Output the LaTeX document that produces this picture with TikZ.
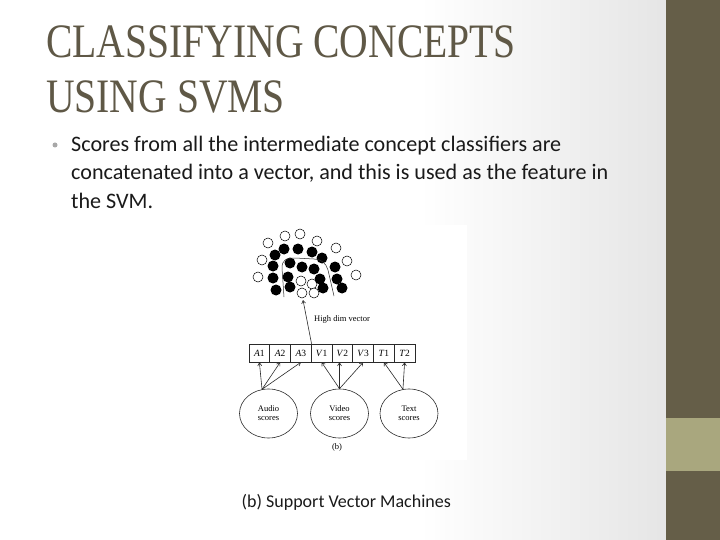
\documentclass[tikz,border=0pt]{standalone}
\usepackage{fontspec}
\setmainfont{Liberation Serif}
\newfontfamily\bodyfont{Carlito}
\newfontfamily\titlefont{Liberation Serif}
\usetikzlibrary{arrows.meta,shapes.geometric}
\definecolor{titlecol}{HTML}{5F5846}
\definecolor{bardark}{HTML}{655E48}
\definecolor{barlight}{HTML}{A9A77E}
\definecolor{bulletcol}{HTML}{A8A8A8}
\definecolor{txtcol}{HTML}{1A1A1A}
\definecolor{lncol}{HTML}{2A2A2A}
\begin{document}
\begin{tikzpicture}[x=1pt,y=-1pt,
  titletext/.style={anchor=base west,inner sep=0pt,text=titlecol,font=\titlefont\fontsize{48}{48}\selectfont},
  bodytext/.style={anchor=base west,inner sep=0pt,text=txtcol,font=\bodyfont\fontsize{22.1}{26}\selectfont},
  cell/.style={draw=lncol,line width=0.6pt,minimum width=20.75pt,minimum height=18pt,inner sep=0pt,font=\fontsize{9.5}{10}\selectfont},
  scorebox/.style={draw=lncol,line width=0.6pt,ellipse,minimum width=58pt,minimum height=49pt,inner sep=0pt,align=center,font=\fontsize{8.5}{9}\selectfont},
  arr/.style={draw=lncol,line width=0.6pt,-{Straight Barb[length=3pt,width=4pt]}},
  opendot/.style={draw=black,line width=0.5pt,fill=white},
  fulldot/.style={fill=black}]
\useasboundingbox (0,0) rectangle (720,540);
\fill[white] (0,0) rectangle (720,540);
\shade[left color=white,right color=black!10] (420,0) rectangle (666,540);
\fill[bardark] (666,0) rectangle (720,540);
\fill[barlight] (666,418) rectangle (720,471);
\fill[white] (247,225) rectangle (467,460);

% title
\node[titletext] (t1) at (46,58) {\scalebox{0.825}[1]{CLASSIFYING CONCEPTS}};
\node[titletext] (t2) at (46,113) {\scalebox{0.825}[1]{USING SVMS}};

% bullet text
\fill[bulletcol] (55,145) circle (2.5);
\node[bodytext] (b1) at (71,152) {Scores from all the intermediate concept classifiers are};
\node[bodytext] (b2) at (71,180) {concatenated into a vector, and this is used as the feature in};
\node[bodytext] (b3) at (71,208) {the SVM.};

% vector cells
\node[cell] (a1) at (259.375,353) {\textit{A}1};
\node[cell] (a2) at (280.125,353) {\textit{A}2};
\node[cell] (a3) at (300.875,353) {\textit{A}3};
\node[cell] (v1) at (321.625,353) {\textit{V}1};
\node[cell] (v2) at (342.375,353) {\textit{V}2};
\node[cell] (v3) at (363.125,353) {\textit{V}3};
\node[cell] (q1) at (383.875,353) {\textit{T}1};
\node[cell] (q2) at (404.625,353) {\textit{T}2};

% score ellipses
\node[scorebox] (audio) at (268.5,413.5) {Audio\\scores};
\node[scorebox] (video) at (339.5,413.5) {Video\\scores};
\node[scorebox] (text) at (409,413.5) {Text\\scores};

\draw[arr] (audio.105) -- (a1.south);
\draw[arr] (audio.105) -- (a2.south);
\draw[arr] (audio.105) -- (a3.south);
\draw[arr] (video.north) -- (v1.south);
\draw[arr] (video.north) -- (video.north |- v2.south);
\draw[arr] (video.north) -- (v3.south);
\draw[arr] (text.104) -- (q1.south);
\draw[arr] (text.104) -- (q2.south);

\node[inner sep=0pt,font=\fontsize{8.5}{9}\selectfont] (blabel) at (337,447) {(b)};

% point cloud
\foreach \p in {(268,243),(285,236),(300,234),(317,241),(336,248),(347,261),(356,275),(262,260),(258,277),(301,281),(312,284),(302,293),(314,293)}
  \draw[opendot] \p circle (5);
\foreach \p in {(275,255),(284,249),(298,249),(312,252),(322,258),(273,266),(290,263),(302,267),(314,269),(335,267),(273,278),(288,277),(320,279),(337,279),(276,290),(290,287),(323,288),(342,288)}
  \fill[fulldot] \p circle (5.5);
\draw[lncol,line width=0.5pt] (284,297) -- (282,268) .. controls (282,260) and (286,258) .. (295,258) -- (314,259) .. controls (321,259) and (326,263) .. (328,270) -- (334,296);

% high-dimensional vector arrow
\coordinate (hd) at (303,300);
\draw[arr] (a3.north east) -- (hd);
\node[anchor=west,inner sep=0pt,font=\fontsize{8.5}{9}\selectfont] (hdl) at (314,319) {High dim vector};

% caption
\node[anchor=base west,inner sep=0pt,text=txtcol,font=\bodyfont\fontsize{18}{20}\selectfont] (cap) at (241.5,507.5) {(b) Support Vector Machines};
\end{tikzpicture}
\end{document}
